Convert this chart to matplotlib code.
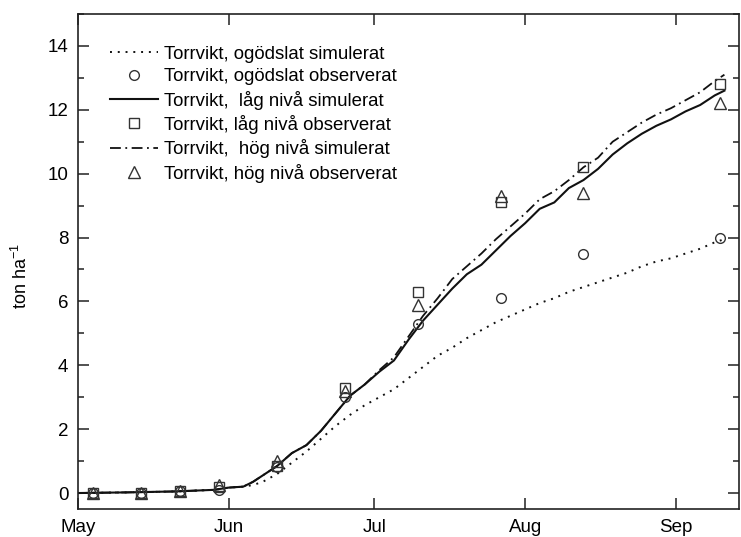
import matplotlib
matplotlib.use("Agg")
import matplotlib.pyplot as plt
import matplotlib.dates as mdates
from matplotlib.ticker import MultipleLocator
import pandas as pd

plt.rcParams["font.family"] = ["Liberation Sans", "DejaVu Sans"]
plt.rcParams["mathtext.default"] = "regular"

START = pd.Timestamp("2001-05-01")

# simulated dry weight, days after 1 May
sim_days = [0, 10, 20, 28, 31, 34, 36, 38, 41, 44, 47, 50, 53, 56, 59, 62,
            65, 68, 71, 74, 77, 80, 83, 86, 89, 92, 95, 98, 101, 104, 107,
            110, 113, 116, 119, 122, 125, 128, 131, 133]
sim_ogodslat = [0.0, 0.02, 0.05, 0.1, 0.17, 0.2, 0.25, 0.35, 0.6, 0.95, 1.3,
                1.7, 2.1, 2.45, 2.75, 3.0, 3.25, 3.6, 3.95, 4.3, 4.55, 4.85,
                5.1, 5.35, 5.55, 5.75, 5.95, 6.1, 6.3, 6.45, 6.6, 6.75, 6.9,
                7.1, 7.25, 7.35, 7.5, 7.65, 7.85, 7.95]
sim_lag = [0.0, 0.02, 0.05, 0.1, 0.17, 0.2, 0.35, 0.55, 0.85, 1.25, 1.5,
           1.95, 2.5, 3.05, 3.4, 3.8, 4.15, 4.8, 5.4, 5.9, 6.4, 6.85, 7.15,
           7.6, 8.05, 8.45, 8.9, 9.1, 9.55, 9.8, 10.15, 10.6, 10.95, 11.25,
           11.5, 11.7, 11.95, 12.15, 12.45, 12.6]
sim_hog = [0.0, 0.02, 0.05, 0.1, 0.17, 0.2, 0.35, 0.55, 0.85, 1.25, 1.5,
           1.95, 2.5, 3.05, 3.4, 3.85, 4.25, 4.9, 5.55, 6.1, 6.7, 7.1, 7.5,
           7.95, 8.35, 8.75, 9.2, 9.45, 9.8, 10.2, 10.5, 11.0, 11.3, 11.6,
           11.85, 12.05, 12.3, 12.55, 12.9, 13.1]

# observed dry weight
obs_days = [3, 13, 21, 29, 41, 55, 70, 87, 104, 132]
obs_ogodslat = [0.0, 0.0, 0.05, 0.1, 0.8, 3.0, 5.3, 6.1, 7.5, 8.0]
obs_lag = [0.0, 0.0, 0.07, 0.2, 0.85, 3.3, 6.3, 9.1, 10.2, 12.8]
obs_hog = [0.0, 0.0, 0.05, 0.25, 1.0, 3.2, 5.9, 9.3, 9.4, 12.2]

labels = [
    "Torrvikt, ogödslat simulerat",
    "Torrvikt, ogödslat observerat",
    "Torrvikt,  låg nivå simulerat",
    "Torrvikt, låg nivå observerat",
    "Torrvikt,  hög nivå simulerat",
    "Torrvikt, hög nivå observerat",
]


def to_dates(days):
    return START + pd.to_timedelta(days, unit="D")


sim_dates = to_dates(sim_days)
obs_dates = to_dates(obs_days)

fig = plt.figure(figsize=(7.41, 5.37), dpi=100)
ax = fig.add_axes([78 / 741, 1 - 509 / 537, 661 / 741, 495 / 537])

line_col = "#111111"
mark_col = "#333333"
mk = dict(linestyle="none", markerfacecolor="none", markeredgecolor=mark_col,
          markeredgewidth=1.0, zorder=3)

ax.plot(sim_dates, sim_ogodslat, color=line_col, lw=1.4,
        linestyle=(0, (1, 3.0)), label=labels[0])
ax.plot(obs_dates, obs_ogodslat, marker="o", markersize=7, label=labels[1], **mk)
ax.plot(sim_dates, sim_lag, color=line_col, lw=1.5, label=labels[2])
ax.plot(obs_dates, obs_lag, marker="s", markersize=6.5, label=labels[3], **mk)
ax.plot(sim_dates, sim_hog, color=line_col, lw=1.3,
        linestyle=(0, (6, 2.5, 1, 2.5)), label=labels[4])
ax.plot(obs_dates, obs_hog, marker="^", markersize=8, label=labels[5], **mk)

ax.set_xlim(START, START + pd.Timedelta(days=136))
ax.set_ylim(-0.5, 15)

ax.xaxis.set_major_locator(mdates.MonthLocator())
ax.xaxis.set_major_formatter(mdates.DateFormatter("%b"))
ax.yaxis.set_major_locator(MultipleLocator(2))
ax.yaxis.set_minor_locator(MultipleLocator(1))
ax.set_yticks([0, 2, 4, 6, 8, 10, 12, 14])

ax.tick_params(which="both", direction="in", top=True, right=True,
               width=1.1, labelsize=13.5, color="#222222")
ax.tick_params(which="major", length=8, pad=7)
ax.tick_params(which="minor", length=4)
for sp in ax.spines.values():
    sp.set_linewidth(1.2)
    sp.set_color("#222222")

ax.set_ylabel("ton ha$^{-1}$", fontsize=13)
ax.yaxis.set_label_coords(-0.071, 0.47)

ax.legend(loc="upper left", bbox_to_anchor=(0.037, 0.951), frameon=False,
          fontsize=13.4, handlelength=2.6, handletextpad=0.3,
          labelspacing=0.29, borderaxespad=0)

fig.savefig("out.png", dpi=100)
